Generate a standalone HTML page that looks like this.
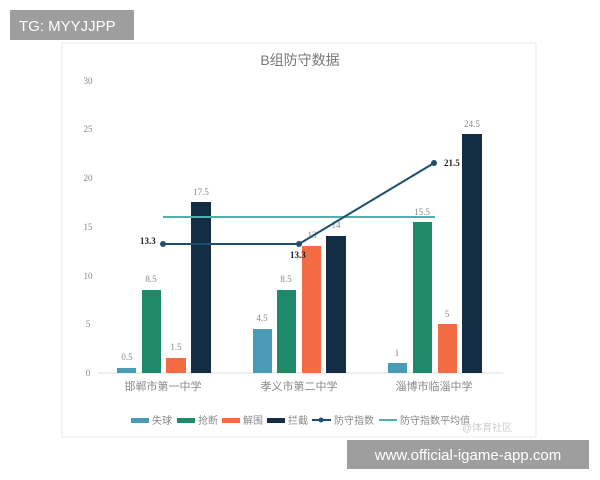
<!DOCTYPE html>
<html><head><meta charset="utf-8"><style>
body{margin:0;width:600px;height:480px;background:#fff;overflow:hidden;font-family:"Liberation Sans","Noto Sans CJK SC",sans-serif;}
</style></head><body>
<svg width="600" height="480" xmlns="http://www.w3.org/2000/svg" style="position:absolute;left:0;top:0">
<rect x="62" y="43" width="474" height="394" fill="#fff" stroke="#e8e8e8"/>
<text x="300" y="65" text-anchor="middle" font-size="14" fill="#777" font-family="Liberation Sans,Noto Sans CJK SC,sans-serif">B组防守数据</text>
<g font-family="Liberation Serif,serif" font-size="9" fill="#888" text-anchor="middle">
<text x="88" y="376">0</text><text x="88" y="327">5</text><text x="88" y="279">10</text><text x="88" y="230">15</text><text x="88" y="181">20</text><text x="88" y="132">25</text><text x="88" y="84">30</text>
</g>
<line x1="98" y1="373" x2="503" y2="373" stroke="#ddd"/>
<g>
<rect x="117" y="368" width="19" height="5" fill="#4a9bb5"/>
<rect x="142" y="290" width="19" height="83" fill="#1e8a6a"/>
<rect x="166" y="358" width="20" height="15" fill="#f26b43"/>
<rect x="191" y="202" width="20" height="171" fill="#132d45"/>
<rect x="253" y="329" width="19" height="44" fill="#4a9bb5"/>
<rect x="277" y="290" width="19" height="83" fill="#1e8a6a"/>
<rect x="302" y="246" width="19" height="127" fill="#f26b43"/>
<rect x="326" y="236" width="20" height="137" fill="#132d45"/>
<rect x="388" y="363" width="19" height="10" fill="#4a9bb5"/>
<rect x="413" y="222" width="19" height="151" fill="#1e8a6a"/>
<rect x="438" y="324" width="19" height="49" fill="#f26b43"/>
<rect x="462" y="134" width="20" height="239" fill="#132d45"/>
</g>
<g font-family="Liberation Serif,serif" font-size="9" fill="#888" text-anchor="middle">
<text x="127" y="360">0.5</text><text x="151" y="282">8.5</text><text x="176" y="350">1.5</text><text x="201" y="195">17.5</text>
<text x="262" y="321">4.5</text><text x="286" y="282">8.5</text><text x="312" y="238">13</text><text x="336" y="228">14</text>
<text x="397" y="356">1</text><text x="422" y="215">15.5</text><text x="447" y="317">5</text><text x="472" y="127">24.5</text>
</g>
<line x1="163" y1="217" x2="435" y2="217" stroke="#4fb0b0" stroke-width="2"/>
<polyline points="163,244 299,244 434,163" fill="none" stroke="#1f4e6e" stroke-width="2"/>
<circle cx="163" cy="244" r="3" fill="#1f4e6e"/><circle cx="299" cy="244" r="3" fill="#1f4e6e"/><circle cx="434" cy="163" r="3" fill="#1f4e6e"/>
<g font-family="Liberation Serif,serif" font-size="9" font-weight="bold" fill="#222">
<text x="140" y="244">13.3</text><text x="290" y="258">13.3</text><text x="444" y="166">21.5</text>
</g>
<g font-size="11" fill="#888" text-anchor="middle">
<text x="163" y="390">邯郸市第一中学</text><text x="299" y="390">孝义市第二中学</text><text x="434" y="390">淄博市临淄中学</text>
</g>
<g font-size="10" fill="#888">
<rect x="131" y="418" width="18" height="5" fill="#4a9bb5"/><text x="152" y="424">失球</text>
<rect x="177" y="418" width="18" height="5" fill="#1e8a6a"/><text x="198" y="424">抢断</text>
<rect x="222" y="418" width="18" height="5" fill="#f26b43"/><text x="243" y="424">解围</text>
<rect x="267" y="418" width="18" height="5" fill="#132d45"/><text x="288" y="424">拦截</text>
<line x1="312" y1="420" x2="331" y2="420" stroke="#1f4e6e" stroke-width="2"/><circle cx="321" cy="420" r="2.5" fill="#1f4e6e"/><text x="334" y="424">防守指数</text>
<line x1="379" y1="420" x2="397" y2="420" stroke="#4fb0b0" stroke-width="2"/><text x="400" y="424">防守指数平均值</text>
<text x="462" y="431" fill="#ccc">@体育社区</text>
</g>
<rect x="10" y="10" width="124" height="30" fill="#9e9e9e"/>
<text x="19" y="31" font-size="15" fill="#fff">TG: MYYJJPP</text>
<rect x="347" y="440" width="242" height="29" fill="#9e9e9e"/>
<text x="468" y="460" font-size="15" fill="#fff" text-anchor="middle">www.official-igame-app.com</text>
</svg>
</body></html>
